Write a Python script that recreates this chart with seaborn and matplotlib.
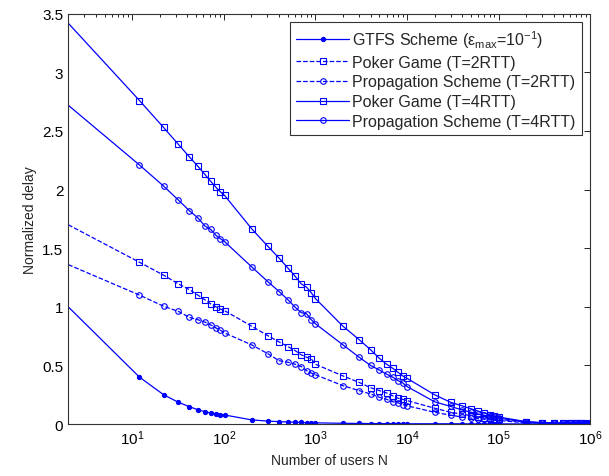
import matplotlib
matplotlib.use("Agg")
import matplotlib.pyplot as plt
import matplotlib.ticker as mticker
import seaborn as sns
import numpy as np

sns.set_style("white")
plt.rcParams['font.family'] = ['Liberation Sans', 'DejaVu Sans']
plt.rcParams['mathtext.default'] = 'regular'

# number of users (x values)
users = [2,
         12, 22, 32, 42, 52, 62, 72, 82, 92, 102,
         202, 302, 402, 502, 602, 702, 802, 902, 1002,
         2002, 3002, 4002, 5002, 6002, 7002, 8002, 9002, 10002,
         20002, 30002, 40002, 50002, 60002, 70002, 80002, 90002, 100002,
         200002, 300002, 400002, 500002, 600002, 700002, 800002, 900002, 1000000]

gtfs = [1.00,
        0.40, 0.25, 0.185, 0.148, 0.122, 0.105, 0.094, 0.085, 0.080, 0.077,
        0.035, 0.025, 0.020, 0.017, 0.015, 0.013, 0.012, 0.011, 0.010,
        0.006, 0.005, 0.004, 0.004, 0.003, 0.003, 0.003, 0.003, 0.002,
        0.002, 0.002, 0.002, 0.001, 0.001, 0.001, 0.001, 0.001, 0.001,
        0.001, 0.001, 0.001, 0.001, 0.001, 0.001, 0.001, 0.001, 0.001]

poker_2rtt = [1.70,
              1.38, 1.27, 1.195, 1.147, 1.10, 1.06, 1.025, 1.00, 0.98, 0.967,
              0.834, 0.754, 0.70, 0.66, 0.626, 0.59, 0.57, 0.555, 0.51,
              0.41, 0.355, 0.31, 0.285, 0.265, 0.24, 0.22, 0.21, 0.20,
              0.135, 0.10, 0.085, 0.07, 0.06, 0.055, 0.05, 0.045, 0.04,
              0.015, 0.010, 0.008, 0.007, 0.006, 0.005, 0.005, 0.004, 0.004]

prop_2rtt = [1.36,
             1.10, 1.005, 0.96, 0.91, 0.89, 0.87, 0.845, 0.82, 0.80, 0.777,
             0.675, 0.60, 0.54, 0.527, 0.51, 0.49, 0.455, 0.435, 0.42,
             0.327, 0.285, 0.256, 0.228, 0.21, 0.19, 0.18, 0.165, 0.156,
             0.10, 0.075, 0.06, 0.05, 0.045, 0.04, 0.035, 0.032, 0.03,
             0.010, 0.008, 0.006, 0.005, 0.005, 0.004, 0.004, 0.003, 0.003]

poker_4rtt = [3.42,
              2.76, 2.53, 2.385, 2.28, 2.20, 2.13, 2.07, 2.02, 1.98, 1.95,
              1.665, 1.517, 1.415, 1.33, 1.26, 1.195, 1.167, 1.12, 1.07,
              0.834, 0.72, 0.634, 0.56, 0.51, 0.475, 0.44, 0.41, 0.39,
              0.25, 0.185, 0.155, 0.13, 0.11, 0.095, 0.08, 0.07, 0.06,
              0.02, 0.012, 0.010, 0.008, 0.007, 0.006, 0.005, 0.005, 0.004]

prop_4rtt = [2.72,
             2.21, 2.03, 1.91, 1.82, 1.76, 1.69, 1.66, 1.61, 1.58, 1.556,
             1.34, 1.215, 1.13, 1.06, 0.996, 0.95, 0.94, 0.89, 0.855,
             0.675, 0.57, 0.50, 0.46, 0.425, 0.40, 0.37, 0.35, 0.32,
             0.19, 0.15, 0.12, 0.10, 0.085, 0.075, 0.065, 0.058, 0.05,
             0.018, 0.010, 0.008, 0.007, 0.006, 0.005, 0.005, 0.004, 0.004]

labels = ['GTFS Scheme (ε$_{max}$=10$^{-1}$)',
          'Poker Game (T=2RTT)',
          'Propagation Scheme (T=2RTT)',
          'Poker Game (T=4RTT)',
          'Propagation Scheme (T=4RTT)']

fig = plt.figure(figsize=(6.09, 4.77), dpi=100)
ax = fig.add_axes([0.112, 0.109, 0.857, 0.860])

blue = (0, 0, 1)
series = [(gtfs, '-', '.', blue, 6),
          (poker_2rtt, '--', 's', 'none', 4),
          (prop_2rtt, '--', 'o', 'none', 4),
          (poker_4rtt, '-', 's', 'none', 4),
          (prop_4rtt, '-', 'o', 'none', 4)]

for (vals, ls, mk, mfc, ms), lab in zip(series, labels):
    sns.lineplot(x=users, y=vals, ax=ax, color=blue, linestyle=ls, linewidth=0.9,
                 marker=mk, markerfacecolor=mfc, markeredgecolor=blue,
                 markeredgewidth=0.8, markersize=ms, markevery=slice(1, None),
                 label=lab, legend=False)

ax.set_xscale('log')
ax.set_xlim(2, 1e6)
ax.set_ylim(0, 3.5)
ax.set_yticks(np.arange(0, 3.51, 0.5))
ax.yaxis.set_major_formatter(mticker.FormatStrFormatter('%g'))
ax.set_xticks([1e1, 1e2, 1e3, 1e4, 1e5, 1e6])
ax.xaxis.set_minor_locator(mticker.LogLocator(base=10, subs=np.arange(2, 10)))

ax.tick_params(which='both', direction='in', top=True, right=True, labelsize=11, colors='black')
ax.tick_params(which='major', length=4, width=0.6)
ax.tick_params(which='minor', length=2.5, width=0.6)
for sp in ax.spines.values():
    sp.set_color('#333333')
    sp.set_linewidth(0.8)

ax.set_xlabel('Number of users N', fontsize=10)
ax.set_ylabel('Normalized delay', fontsize=10)

leg = ax.legend(loc='upper right', fontsize=11.5, frameon=True, fancybox=False,
                borderaxespad=0.5, handlelength=3.3, labelspacing=0.3,
                borderpad=0.4, handletextpad=0.2, numpoints=1)
leg.get_frame().set_edgecolor('black')
leg.get_frame().set_linewidth(0.8)

plt.savefig('out.png', dpi=100)
